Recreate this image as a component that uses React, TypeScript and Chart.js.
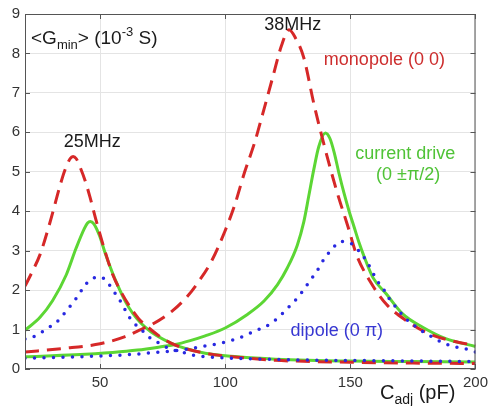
import React, { useEffect, useRef } from 'react';
import { Chart, registerables } from 'chart.js';

Chart.register(...registerables);

const FONT = '"Liberation Sans", Arial, Helvetica, sans-serif';

const xTicks = [50, 100, 150, 200];
const yTicks = [0, 1, 2, 3, 4, 5, 6, 7, 8, 9];

// monopole (0 0) – red dashed
const mono1C = [20, 23, 26, 30, 34, 36, 38, 39.2, 40.5, 42, 44, 46, 48.5, 52, 55, 58, 61.5, 65.5, 69.5, 74, 78.5, 85, 92, 100, 105, 120, 135, 150, 175, 200];
const mono1G = [2.1, 2.48, 2.9, 3.72, 4.65, 5.05, 5.33, 5.39, 5.33, 5.12, 4.78, 4.35, 3.75, 2.98, 2.4, 2.0, 1.62, 1.27, 1.04, 0.82, 0.65, 0.5, 0.4, 0.33, 0.3, 0.22, 0.19, 0.17, 0.15, 0.14];
const mono2C = [20, 35, 50, 60, 65.5, 71, 79, 85, 89.2, 94.5, 99.8, 103.7, 107.7, 111.7, 114.9, 119, 122.5, 125.5, 128, 131.4, 135.4, 139.3, 144.6, 149, 152.5, 157.8, 164.4, 172.3, 181.5, 190.8, 200];
const mono2G = [0.43, 0.52, 0.64, 0.82, 0.98, 1.14, 1.48, 1.85, 2.2, 2.73, 3.48, 4.14, 4.98, 5.73, 6.45, 7.4, 8.2, 8.6, 8.4, 7.89, 6.73, 5.73, 4.5, 3.62, 2.89, 2.23, 1.64, 1.23, 0.89, 0.71, 0.6];

// current drive (0 ±π/2) – green solid
const curr1C = [20, 26, 31, 36.5, 40.4, 43.7, 45, 46.1, 47.5, 49.7, 52.3, 56.3, 61.5, 68, 78.5, 92, 105, 120, 150, 175, 200];
const curr1G = [0.98, 1.31, 1.73, 2.39, 3.06, 3.56, 3.7, 3.74, 3.68, 3.39, 2.89, 2.23, 1.56, 1.06, 0.65, 0.4, 0.31, 0.25, 0.2, 0.19, 0.18];
const curr2C = [20, 40, 55, 65, 75, 80, 86, 92, 100, 109, 115.6, 120.9, 124.8, 128.8, 131.4, 133.4, 135.4, 137.4, 140, 141.8, 143.5, 145.5, 147.5, 149.5, 151.5, 153.5, 155.5, 159.1, 164.4, 171, 178.9, 188.1, 200];
const curr2G = [0.31, 0.36, 0.42, 0.48, 0.57, 0.62, 0.72, 0.84, 1.04, 1.39, 1.73, 2.14, 2.56, 3.14, 3.73, 4.39, 5.06, 5.64, 5.98, 5.85, 5.5, 4.95, 4.45, 4.0, 3.6, 3.2, 2.85, 2.31, 1.9, 1.39, 1.06, 0.77, 0.57];

// dipole (0 π) – blue dotted
const dip1C = [20, 24.6, 28.6, 32.5, 35.2, 37.8, 40.7, 43.1, 46.1, 50.3, 53.6, 56.3, 58.9, 60.9, 63.5, 66.8, 70.1, 74.1, 77.4, 82.6, 87.2, 92, 105, 130, 160, 200];
const dip1G = [0.76, 0.85, 1.02, 1.18, 1.37, 1.57, 1.81, 2.04, 2.27, 2.33, 2.14, 1.89, 1.64, 1.39, 1.17, 0.98, 0.78, 0.64, 0.52, 0.43, 0.35, 0.31, 0.27, 0.23, 0.21, 0.19];
const dip2C = [20, 50, 63, 72, 81, 90, 94.5, 99, 103.7, 107.7, 111.7, 116.3, 119.6, 123.2, 126.4, 129.5, 132.1, 134.7, 137.4, 139.7, 142.6, 146, 150.3, 153.6, 156.5, 160.7, 163.3, 165.7, 168.6, 171.6, 175.2, 178.6, 182.2, 186.5, 190.9, 195.4, 200];
const dip2G = [0.27, 0.33, 0.37, 0.42, 0.47, 0.56, 0.61, 0.67, 0.75, 0.84, 0.96, 1.08, 1.22, 1.43, 1.64, 1.85, 2.08, 2.31, 2.56, 2.81, 3.03, 3.23, 3.18, 2.98, 2.73, 2.24, 2.02, 1.77, 1.54, 1.31, 1.12, 0.96, 0.83, 0.68, 0.57, 0.52, 0.43];

const RED = 'rgb(214, 40, 40)';
const GREEN = 'rgb(92, 214, 52)';
const BLUE = 'rgb(40, 40, 225)';

const pts = (xs: number[], ys: number[]) => xs.map((x, i) => ({ x, y: ys[i] }));

type Run = { t: string; size: number; dy?: number };

function drawRuns(ctx: CanvasRenderingContext2D, runs: Run[], x: number, y: number, color: string, align: 'left' | 'center') {
  ctx.save();
  ctx.fillStyle = color;
  ctx.textBaseline = 'alphabetic';
  ctx.textAlign = 'left';
  let total = 0;
  for (const r of runs) {
    ctx.font = `${r.size}px ${FONT}`;
    total += ctx.measureText(r.t).width;
  }
  let cx = align === 'center' ? x - total / 2 : x;
  for (const r of runs) {
    ctx.font = `${r.size}px ${FONT}`;
    ctx.fillText(r.t, cx, y + (r.dy || 0));
    cx += ctx.measureText(r.t).width;
  }
  ctx.restore();
}

const decorPlugin = {
  id: 'decor',
  afterDraw(chart: any) {
    const { ctx, chartArea: a, scales } = chart;
    const xs = scales.x;
    const ys = scales.y;
    ctx.save();
    ctx.strokeStyle = '#555';
    ctx.lineWidth = 1;
    ctx.strokeRect(a.left + 0.5, a.top + 0.5, a.right - a.left - 1, a.bottom - a.top - 1);
    ctx.beginPath();
    for (const v of yTicks) {
      const py = Math.round(ys.getPixelForValue(v)) + 0.5;
      ctx.moveTo(a.left, py); ctx.lineTo(a.left + 5, py);
      ctx.moveTo(a.right, py); ctx.lineTo(a.right - 5, py);
    }
    for (const v of xTicks) {
      const px = Math.round(xs.getPixelForValue(v)) + 0.5;
      ctx.moveTo(px, a.bottom); ctx.lineTo(px, a.bottom - 5);
      ctx.moveTo(px, a.top); ctx.lineTo(px, a.top + 5);
    }
    ctx.stroke();
    ctx.restore();

    const P = (cx: number, gy: number) => [xs.getPixelForValue(cx), ys.getPixelForValue(gy)];
    const [lx, ly] = P(22.4, 8.25);
    drawRuns(ctx, [
      { t: '<G', size: 19 },
      { t: 'min', size: 13, dy: 5 },
      { t: '> (10', size: 19 },
      { t: '-3', size: 13, dy: -8 },
      { t: ' S)', size: 19 },
    ], lx, ly, '#1a1a1a', 'left');

    const lab = (t: string, cx: number, gy: number, color: string) => {
      const [px, py] = P(cx, gy);
      drawRuns(ctx, [{ t, size: 18 }], px, py + 6, color, 'center');
    };
    lab('25MHz', 46.9, 5.78, '#1a1a1a');
    lab('38MHz', 127, 8.75, '#1a1a1a');
    lab('monopole (0 0)', 163.6, 7.85, 'rgb(205, 45, 45)');
    lab('current drive', 171.9, 5.48, 'rgb(80, 195, 55)');
    lab('(0 \u00b1\u03c0/2)', 173.1, 4.95, 'rgb(80, 195, 55)');
    lab('dipole (0 \u03c0)', 144.6, 1.0, 'rgb(55, 55, 210)');

    drawRuns(ctx, [
      { t: 'C', size: 20 },
      { t: 'adj', size: 14, dy: 5 },
      { t: ' (pF)', size: 20 },
    ], 380, 399, '#1a1a1a', 'left');
  },
};

export default function App() {
  const ref = useRef<HTMLCanvasElement | null>(null);
  useEffect(() => {
    if (!ref.current) return;
    const common = { pointRadius: 0, borderWidth: 3, fill: false, cubicInterpolationMode: 'monotone' as const };
    const chart = new Chart(ref.current, {
      type: 'line',
      data: {
        datasets: [
          { ...common, data: pts(dip1C, dip1G), borderColor: BLUE, borderDash: [0, 9.5], borderCapStyle: 'round', borderWidth: 3.5 },
          { ...common, data: pts(dip2C, dip2G), borderColor: BLUE, borderDash: [0, 9.5], borderCapStyle: 'round', borderWidth: 3.5 },
          { ...common, data: pts(mono1C, mono1G), borderColor: RED, borderDash: [14, 8] },
          { ...common, data: pts(mono2C, mono2G), borderColor: RED, borderDash: [14, 8] },
          { ...common, data: pts(curr1C, curr1G), borderColor: GREEN },
          { ...common, data: pts(curr2C, curr2G), borderColor: GREEN },
        ] as any,
      },
      options: {
        animation: false,
        responsive: false,
        layout: { padding: { top: 9, right: 13, left: 0, bottom: 0 } },
        plugins: { legend: { display: false }, tooltip: { enabled: false } },
        scales: {
          x: {
            type: 'linear',
            min: 20,
            max: 200,
            afterBuildTicks: (s: any) => { s.ticks = xTicks.map((v) => ({ value: v })); },
            afterFit: (s: any) => { s.height = 37; },
            grid: { color: '#e4e4e4', drawTicks: false },
            border: { display: false },
            ticks: { padding: 5, color: '#333', font: { family: FONT, size: 15 }, maxRotation: 0, autoSkip: false },
          },
          y: {
            type: 'linear',
            min: 0,
            max: 9,
            afterBuildTicks: (s: any) => { s.ticks = yTicks.map((v) => ({ value: v })); },
            afterFit: (s: any) => { s.width = 25; },
            grid: { color: '#e4e4e4', drawTicks: false },
            border: { display: false },
            ticks: { padding: 5, color: '#333', font: { family: FONT, size: 15 }, autoSkip: false },
          },
        },
      },
      plugins: [decorPlugin],
    });
    return () => chart.destroy();
  }, []);
  return (
    <div style={{ position: 'fixed', left: 0, top: 0, width: 493, height: 406, background: '#fff' }}>
      <canvas ref={ref} width={493} height={406} style={{ width: 493, height: 406, display: 'block' }} />
    </div>
  );
}
